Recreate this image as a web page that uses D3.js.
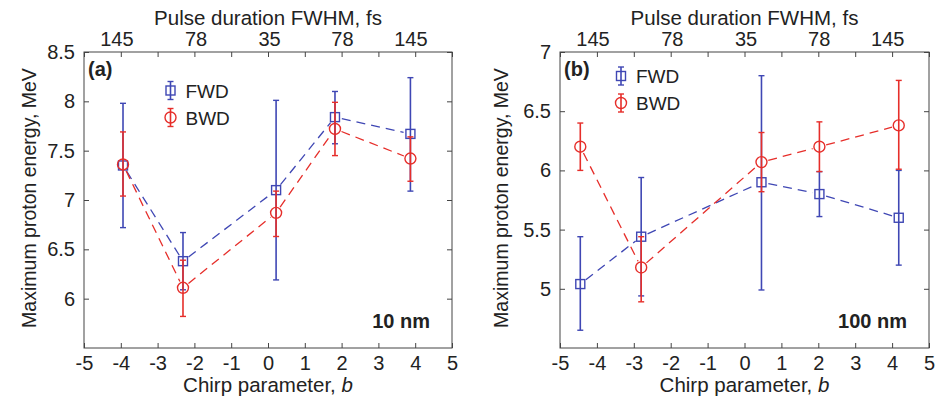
<!DOCTYPE html>
<html lang="en">
<head>
    <meta charset="UTF-8">
    <title>Chirp</title>
    <script src="https://cdn.jsdelivr.net/npm/d3@7"></script>
    <style>
        body { margin: 0; background: #fff; }
        text { font-family: "Liberation Sans", Arial, sans-serif; fill: #222; }
    </style>
</head>
<body>
<script>
    // ticks
    const xTicks = [-5, -4, -3, -2, -1, 0, 1, 2, 3, 4, 5]
    const topTickPos = [-4.12, -1.97, 0.03, 2.01, 3.87]
    const topTickLabels = ['145', '78', '35', '78', '145']
    const aYTicks = [6, 6.5, 7, 7.5, 8, 8.5]
    const bYTicks = [5, 5.5, 6, 6.5, 7]

    // panel (a), 10 nm
    const aB = [-3.94, -2.31, 0.22, 1.82, 3.87]
    const aFwd = [7.35, 6.38, 7.10, 7.84, 7.67]
    const aFwdLo = [6.72, 6.09, 6.19, 7.57, 7.09]
    const aFwdHi = [7.98, 6.67, 8.01, 8.10, 8.24]
    const aBwd = [7.36, 6.11, 6.87, 7.72, 7.42]
    const aBwdLo = [7.04, 5.82, 6.63, 7.45, 7.19]
    const aBwdHi = [7.69, 6.39, 7.09, 7.99, 7.64]

    // panel (b), 100 nm
    const bB = [-4.45, -2.8, 0.46, 2.03, 4.18]
    const bFwd = [5.04, 5.44, 5.90, 5.80, 5.60]
    const bFwdLo = [4.65, 4.94, 4.99, 5.61, 5.20]
    const bFwdHi = [5.44, 5.94, 6.80, 5.99, 6.00]
    const bBwd = [6.20, 5.18, 6.07, 6.20, 6.38]
    const bBwdLo = [6.00, 4.89, 5.82, 5.99, 6.01]
    const bBwdHi = [6.40, 5.44, 6.32, 6.41, 6.76]

    const blue = '#3f47b4', red = '#e62e2a', axisColor = '#444'
    const [width, height] = [937, 396]
    const svg = d3.select('body').append('svg')
        .attr('width', width).attr('height', height)

    const zip = (b, v, lo, hi) => b.map((d, i) => ({b: d, v: v[i], lo: lo[i], hi: hi[i]}))

    const drawPanel = p => {
        const x = d3.scaleLinear().domain([-5, 5]).range([p.left, p.right])
        const y = d3.scaleLinear().domain(p.yDomain).range([348, 52])
        const g = svg.append('g')

        // frame
        g.append('rect').attr('x', p.left).attr('y', 52)
            .attr('width', p.right - p.left).attr('height', 296)
            .attr('fill', 'none').attr('stroke', axisColor).attr('stroke-width', 1)

        // axes, ticks pointing inward
        const bottom = g.append('g').attr('transform', `translate(0,348)`)
            .call(d3.axisBottom(x).tickValues(xTicks).tickSize(-5).tickPadding(8).tickFormat(d => String(d)))
        const top = g.append('g').attr('transform', `translate(0,52)`)
            .call(d3.axisTop(x).tickValues(xTicks).tickSize(-5).tickFormat(''))
        const topLab = g.append('g').attr('transform', `translate(0,52)`)
            .call(d3.axisTop(x).tickValues(topTickPos).tickSize(0).tickPadding(6)
                .tickFormat((d, i) => topTickLabels[i]))
        const left = g.append('g').attr('transform', `translate(${p.left},0)`)
            .call(d3.axisLeft(y).tickValues(p.yTicks).tickSize(-5).tickPadding(9).tickFormat(d => String(d)))
        const right = g.append('g').attr('transform', `translate(${p.right},0)`)
            .call(d3.axisRight(y).tickValues(p.yTicks).tickSize(-5).tickFormat(''))
        ;[bottom, top, topLab, left, right].forEach(a => {
            a.select('.domain').remove()
            a.selectAll('line').attr('stroke', axisColor)
            a.selectAll('text').style('font-size', '20px').attr('fill', '#222')
        })

        // axis titles
        const cx = (p.left + p.right) / 2
        g.append('text').attr('x', cx).attr('y', 392).attr('text-anchor', 'middle')
            .style('font-size', '20.5px')
            .html('Chirp parameter, <tspan font-style="italic">b</tspan>')
        g.append('text').attr('x', cx).attr('y', 25).attr('text-anchor', 'middle')
            .style('font-size', '20.5px')
            .text('Pulse duration FWHM, fs')
        g.append('text').attr('transform', `translate(${p.left - p.yLabOff},198) rotate(-90)`)
            .attr('text-anchor', 'middle').style('font-size', '19.5px')
            .text('Maximum proton energy, MeV')

        // panel label and thickness
        g.append('text').attr('x', p.left + 4).attr('y', 76).style('font-size', '20px')
            .style('font-weight', 'bold').text(p.tag)
        g.append('text').attr('x', p.right - 22).attr('y', 328).attr('text-anchor', 'end')
            .style('font-size', '20px').style('font-weight', 'bold').text(p.thick)

        const series = [
            {data: p.fwd, color: blue, shape: 'square', name: 'FWD'},
            {data: p.bwd, color: red, shape: 'circle', name: 'BWD'}
        ]

        const marker = (sel, s, px, py) => {
            if (s.shape === 'square') {
                sel.append('rect').attr('x', px - 4.5).attr('y', py - 4.5)
                    .attr('width', 9).attr('height', 9)
                    .attr('fill', 'none').attr('stroke', s.color).attr('stroke-width', 1.4)
            } else {
                sel.append('circle').attr('cx', px).attr('cy', py).attr('r', 5.5)
                    .attr('fill', 'none').attr('stroke', s.color).attr('stroke-width', 1.4)
            }
        }
        const errBar = (sel, color, px, y1, y2) => {
            sel.append('line').attr('x1', px).attr('x2', px).attr('y1', y1).attr('y2', y2)
                .attr('stroke', color).attr('stroke-width', 1.6)
            ;[y1, y2].forEach(yy => sel.append('line').attr('x1', px - 3).attr('x2', px + 3)
                .attr('y1', yy).attr('y2', yy).attr('stroke', color).attr('stroke-width', 1.4))
        }

        // dashed lines, trimmed near the markers
        series.forEach(s => {
            const pts = s.data.map(d => [x(d.b), y(d.v)])
            for (let i = 0; i < pts.length - 1; i++) {
                const [x1, y1] = pts[i], [x2, y2] = pts[i + 1]
                const len = Math.hypot(x2 - x1, y2 - y1), gap = 7
                const ux = (x2 - x1) / len, uy = (y2 - y1) / len
                g.append('line')
                    .attr('x1', x1 + ux * gap).attr('y1', y1 + uy * gap)
                    .attr('x2', x2 - ux * gap).attr('y2', y2 - uy * gap)
                    .attr('stroke', s.color).attr('stroke-width', 1.3)
                    .attr('stroke-dasharray', '9,6')
            }
        })
        // error bars and markers
        series.forEach(s => {
            const sg = g.append('g')
            s.data.forEach(d => errBar(sg, s.color, x(d.b), y(d.hi), y(d.lo)))
            s.data.forEach(d => marker(sg, s, x(d.b), y(d.v)))
        })

        // legend
        series.forEach((s, i) => {
            const ly = p.legendY + i * 27
            const lg = g.append('g')
            errBar(lg, s.color, p.legendX, ly - 9, ly + 9)
            marker(lg, s, p.legendX, ly)
            lg.append('text').attr('x', p.legendX + 15).attr('y', ly + 7)
                .style('font-size', '19px').text(s.name)
        })
    }

    drawPanel({
        left: 84, right: 452, yDomain: [5.5, 8.5], yTicks: aYTicks, tag: '(a)', thick: '10 nm',
        fwd: zip(aB, aFwd, aFwdLo, aFwdHi), bwd: zip(aB, aBwd, aBwdLo, aBwdHi),
        legendX: 170.5, legendY: 90.5, yLabOff: 48
    })
    drawPanel({
        left: 560, right: 929, yDomain: [4.5, 7], yTicks: bYTicks, tag: '(b)', thick: '100 nm',
        fwd: zip(bB, bFwd, bFwdLo, bFwdHi), bwd: zip(bB, bBwd, bBwdLo, bBwdHi),
        legendX: 621, legendY: 76, yLabOff: 52
    })
</script>
</body>
</html>
